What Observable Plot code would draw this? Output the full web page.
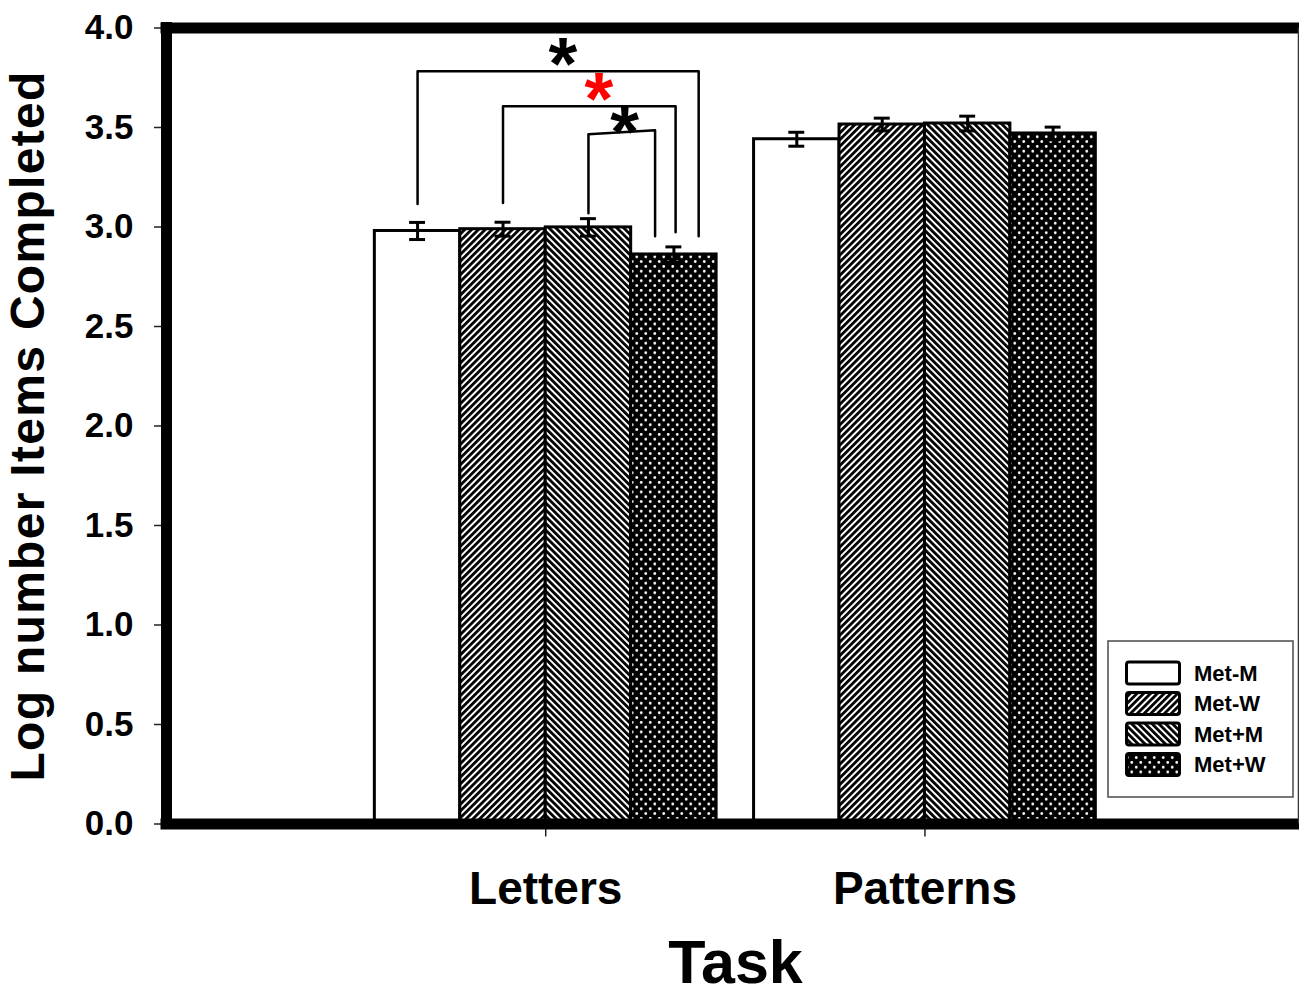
<!DOCTYPE html>
<html><head><meta charset="utf-8">
<script src="https://cdn.jsdelivr.net/npm/d3@7"></script>
<script src="https://cdn.jsdelivr.net/npm/@observablehq/plot@0.6"></script>
<style>
html,body{margin:0;padding:0;background:#fff;overflow:hidden;}
#wrap{position:relative;width:1299px;height:998px;}
#legend{position:absolute;left:1107px;top:640px;}
</style></head><body>
<svg width="0" height="0" style="position:absolute">
<defs>
  <pattern id="hatchR" patternUnits="userSpaceOnUse" width="4.8" height="4.8" patternTransform="rotate(45)">
    <rect width="4.8" height="4.8" fill="white"/><rect width="2.8" height="4.8" fill="black"/>
  </pattern>
  <pattern id="hatchL" patternUnits="userSpaceOnUse" width="4.8" height="4.8" patternTransform="rotate(-45)">
    <rect width="4.8" height="4.8" fill="white"/><rect width="2.8" height="4.8" fill="black"/>
  </pattern>
  <pattern id="dots" patternUnits="userSpaceOnUse" width="9" height="9.6">
    <rect width="9" height="9.6" fill="black"/>
    <circle cx="2.25" cy="2.4" r="1.4" fill="white"/>
    <circle cx="6.75" cy="7.2" r="1.4" fill="white"/>
  </pattern>
</defs></svg>
<div id="wrap"></div>
<script>
// ---- data ----
const tasks = ["Letters", "Patterns"];
const groups = ["Met-M", "Met-W", "Met+M", "Met+W"];
const letterMeans = [2.980, 2.989, 2.998, 2.862];
const letterErrs = [0.043, 0.035, 0.044, 0.038];
const patternMeans = [3.441, 3.515, 3.520, 3.470];
const patternErrs = [0.035, 0.032, 0.037, 0.032];
const yTicks = [0, 0.5, 1, 1.5, 2, 2.5, 3, 3.5, 4];
const groupFills = ["white", "url(#hatchR)", "url(#hatchL)", "url(#dots)"];
// significance brackets within the Letters task
const bracketFrom = [0, 1, 2];
const bracketTo = [3, 3, 3];
const bracketTopLeft = [3.783, 3.607, 3.466];
const bracketTopRight = [3.783, 3.607, 3.486];
const bracketFootLeft = [3.115, 3.120, 3.069];
const bracketFootRight = [2.954, 2.974, 2.954];
const bracketRightShift = [0.29, 0.02, -0.22];
// asterisks (x in task units from the Letters tick, y in axis units)
const starX = [0.045, 0.140, 0.208];
const starY = [3.813, 3.637, 3.470];
const starColors = ["black", "red", "black"];
const yLabel = "Log number Items Completed";
const xLabel = "Task";

// ---- layout constants ----
const barW = 0.2253;
const capHalf = 0.021;
const center = (ti, gi) => ti + (gi - 1.5) * barW;

const means = [letterMeans, patternMeans];
const errs = [letterErrs, patternErrs];
const rows = [];
tasks.forEach((t, ti) => groups.forEach((g, gi) => rows.push({task: t, ti, group: g, gi, mean: means[ti][gi], err: errs[ti][gi]})));
const caps = rows.flatMap(d => [{...d, y: d.mean - d.err}, {...d, y: d.mean + d.err}]);

const bracketPts = bracketFrom.flatMap((f, i) => {
  const xL = center(0, f);
  const xR = center(0, bracketTo[i]) + bracketRightShift[i] * barW;
  return [
    {id: i, x: xL, y: bracketFootLeft[i]},
    {id: i, x: xL, y: bracketTopLeft[i]},
    {id: i, x: xR, y: bracketTopRight[i]},
    {id: i, x: xR, y: bracketFootRight[i]}
  ];
});
const stars = starX.map((x, i) => ({x, y: starY[i], color: starColors[i]}));

const plot = Plot.plot({
  width: 1299,
  height: 998,
  marginLeft: 166,
  marginRight: 1,
  marginTop: 27.5,
  marginBottom: 174.5,
  style: "font-family: 'Liberation Sans', Arial, sans-serif; font-weight: bold; color: black; background: white;",
  x: {domain: [-1, 1.985]},
  y: {domain: [0, 4]},
  color: {domain: groups, range: groupFills},
  marks: [
    Plot.rectY(rows, {x1: d => d.ti + (d.gi - 2) * barW, x2: d => d.ti + (d.gi - 1) * barW, y1: 0, y2: "mean", fill: "group", stroke: "black", strokeWidth: 3}),
    Plot.ruleX(rows, {x: d => center(d.ti, d.gi), y1: d => d.mean - d.err, y2: d => d.mean + d.err, stroke: "black", strokeWidth: 3}),
    Plot.ruleY(caps, {y: "y", x1: d => center(d.ti, d.gi) - capHalf, x2: d => center(d.ti, d.gi) + capHalf, stroke: "black", strokeWidth: 3}),
    Plot.line(bracketPts, {x: "x", y: "y", z: "id", stroke: "black", strokeWidth: 2.5, curve: "linear"}),
    Plot.text(stars, {x: "x", y: "y", text: () => "*", fill: d => d.color, fontSize: 74, lineAnchor: "middle"}),
    Plot.axisY({ticks: yTicks, tickFormat: d3.format(".1f"), tickSize: 12, tickPadding: 21, fontSize: 35, label: null, stroke: "#222", strokeWidth: 1.5}),
    Plot.axisX({ticks: [0, 1], tickFormat: i => tasks[i], tickSize: 13, tickPadding: 34, fontSize: 46, label: null, stroke: "#222", strokeWidth: 1.5}),
    Plot.ruleY([0], {stroke: "black", strokeWidth: 11, strokeLinecap: "square"}),
    Plot.ruleY([4], {stroke: "black", strokeWidth: 11, strokeLinecap: "square"}),
    Plot.ruleX([-1], {stroke: "black", strokeWidth: 11, strokeLinecap: "square"}),
    Plot.ruleX([1.985], {stroke: "#333", strokeWidth: 1.5}),
    Plot.text([yLabel], {text: d => d, frameAnchor: "left", textAnchor: "middle", rotate: -90, dx: -137.7, fontSize: 48}),
    Plot.text([xLabel], {text: d => d, frameAnchor: "bottom", textAnchor: "middle", dx: 3, dy: 159, fontSize: 61})
  ]
});
document.getElementById("wrap").appendChild(plot);
d3.select(plot).selectAll("text").filter(function() { return this.textContent === yLabel; }).style("letter-spacing", "1.3px");

// ---- legend ----
const lg = d3.select("#wrap").append("svg").attr("id", "legend").attr("width", 188).attr("height", 159)
  .style("font-family", "'Liberation Sans', Arial, sans-serif").style("font-weight", "bold");
lg.append("rect").attr("x", 1).attr("y", 1).attr("width", 185).attr("height", 156).attr("fill", "white").attr("stroke", "#555").attr("stroke-width", 1.6);
groups.forEach((g, i) => {
  const top = 22 + i * 30.5;
  lg.append("rect").attr("x", 19.5).attr("y", top).attr("width", 53).attr("height", 22).attr("rx", 2.5)
    .attr("fill", groupFills[i]).attr("stroke", "black").attr("stroke-width", 3);
  lg.append("text").attr("x", 87).attr("y", top + 11).attr("dominant-baseline", "central").attr("font-size", 22).attr("fill", "black").text(g);
});
</script>
</body></html>
